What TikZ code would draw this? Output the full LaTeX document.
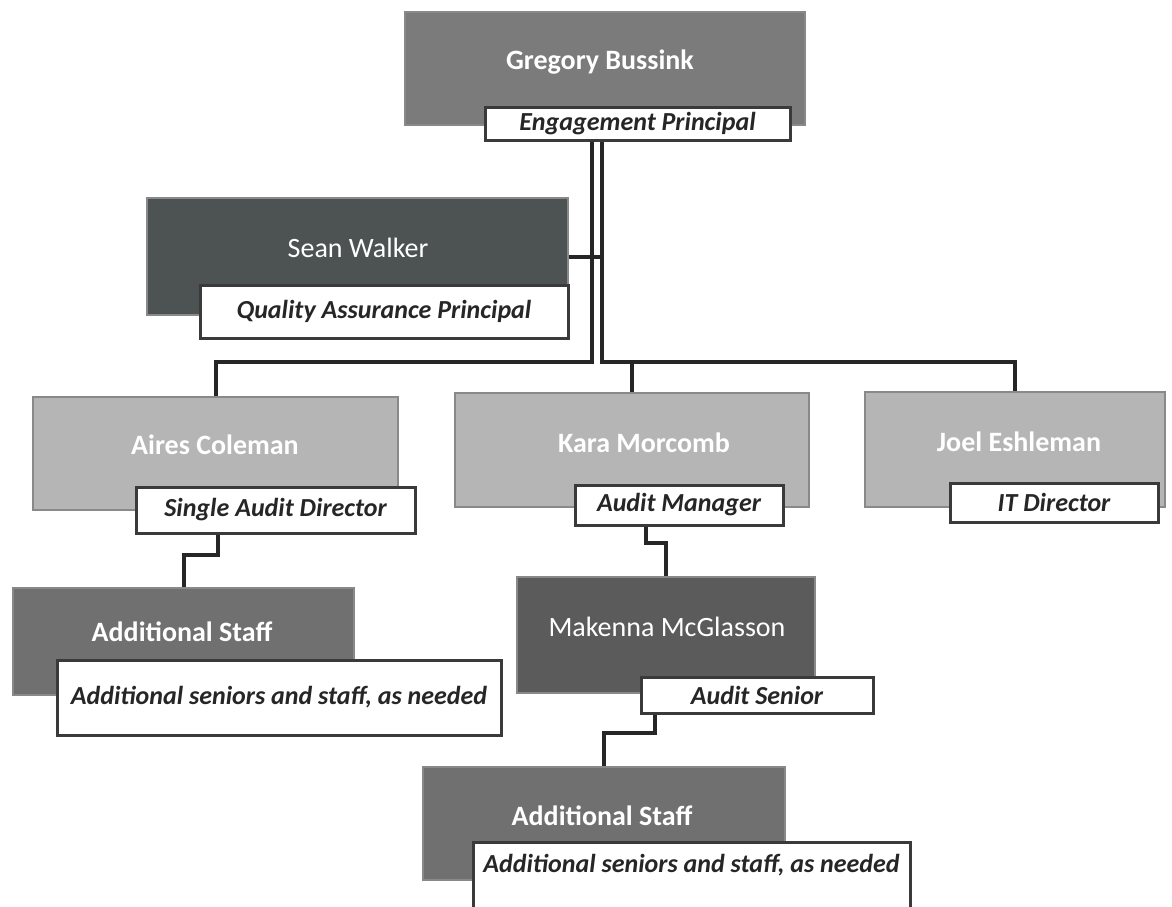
\documentclass[tikz,border=0pt]{standalone}
\usepackage{fontspec}
\setmainfont{Carlito}

\definecolor{topgrey}{HTML}{7B7B7B}
\definecolor{qagrey}{HTML}{4D5353}
\definecolor{leadgrey}{HTML}{B5B5B5}
\definecolor{staffgrey}{HTML}{707070}
\definecolor{seniorgrey}{HTML}{5B5B5B}
\definecolor{rimgrey}{HTML}{3A3A3A}

\begin{document}
\begin{tikzpicture}[x=1pt,y=-1pt,
  orgbox/.style={rectangle,inner sep=0pt,draw=rimgrey!60,line width=1.5pt},
  rolebox/.style={rectangle,inner sep=0pt,fill=white,draw=rimgrey,line width=3pt,
    text=black!85,font=\fontsize{26}{30}\selectfont\bfseries\itshape},
  whitename/.style={text=white,font=\fontsize{28}{32}\selectfont\bfseries},
  whiteplain/.style={text=white,font=\fontsize{28}{32}\selectfont},
  linkline/.style={line width=4pt,black!85}]
%\draw [help lines] (0,0) grid[step=100] (1172,906);
\clip (0,0) rectangle (1172,906);

% top
\node[orgbox,fill=topgrey,minimum width=400pt,minimum height=113pt] (greg) at (605,68.5) {};
\node[whitename] (gregN) at (600,62) {Gregory Bussink};
\node[rolebox,minimum width=305pt,minimum height=33pt] (gregR) at (637.5,123.5) {Engagement Principal};

\node[orgbox,fill=qagrey,minimum width=421pt,minimum height=117pt] (sean) at (357.5,256.5) {};
\node[whiteplain] (seanN) at (358,248) {Sean Walker};
\node[rolebox,minimum width=368pt,minimum height=53pt] (seanR) at (384,311.5) {Quality Assurance Principal};

% second row
\node[orgbox,fill=leadgrey,minimum width=365pt,minimum height=113pt] (aires) at (215.5,453.5) {};
\node[whitename] (airesN) at (215,445) {Aires Coleman};
\node[rolebox,minimum width=279pt,minimum height=46pt] (airesR) at (275.5,510) {Single Audit Director};

\node[orgbox,fill=leadgrey,minimum width=354pt,minimum height=114pt] (kara) at (632,450) {};
\node[whitename] (karaN) at (644,443) {Kara Morcomb};
\node[rolebox,minimum width=208pt,minimum height=40pt] (karaR) at (679,505) {Audit Manager};

\node[orgbox,fill=leadgrey,minimum width=300pt,minimum height=115pt] (joel) at (1015,449.5) {};
\node[whitename] (joelN) at (1019,442) {Joel Eshleman};
\node[rolebox,minimum width=208pt,minimum height=39pt] (joelR) at (1054,502.5) {IT Director};

% lower rows
\node[orgbox,fill=staffgrey,minimum width=341pt,minimum height=107pt] (staffA) at (183.5,641.5) {};
\node[whitename] (staffAN) at (182,632) {Additional Staff};
\node[rolebox,minimum width=444pt,minimum height=75pt] (staffAR) at (279,697.5) {Additional seniors and staff, as needed};

\node[orgbox,fill=seniorgrey,minimum width=298pt,minimum height=116pt] (mak) at (666,635) {};
\node[whiteplain] (makN) at (667,627) {Makenna McGlasson};
\node[rolebox,minimum width=232pt,minimum height=36pt] (makR) at (757,695) {Audit Senior};

\node[orgbox,fill=staffgrey,minimum width=362pt,minimum height=113pt] (staffB) at (604,823.5) {};
\node[whitename] (staffBN) at (602,816) {Additional Staff};
\node[rolebox,minimum width=437pt,minimum height=74pt,text depth=32pt] (staffBR) at (691.5,879) {Additional seniors and staff, as needed};

% lines
\coordinate (busL) at (592,362);
\coordinate (busR) at (602,362);
\draw[linkline] (gregR.south -| busL) -- (busL) -| (aires.north);
\draw[linkline] (gregR.south -| busR) -- (busR) -| (kara.north);
\draw[linkline] (busR) -| (joel.north);
\draw[linkline] (sean.east) -- (sean.east -| busR);

\coordinate (kinkA) at (218,555);
\draw[linkline] (airesR.south -| kinkA) -- (kinkA) -| (staffA.north);
\coordinate (kinkB) at (646,543);
\draw[linkline] (karaR.south -| kinkB) -- (kinkB) -| (mak.north);
\coordinate (kinkC) at (655,733);
\draw[linkline] (makR.south -| kinkC) -- (kinkC) -| (staffB.north);

\end{tikzpicture}
\end{document}
